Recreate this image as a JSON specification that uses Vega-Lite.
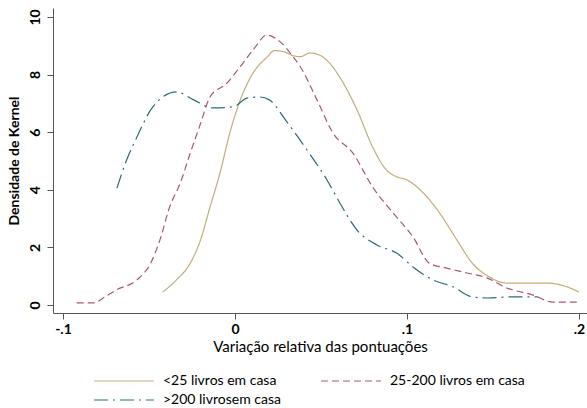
{
  "$schema": "https://vega.github.io/schema/vega-lite/v6.json",
  "autosize": {"type": "none"},
  "width": 534,
  "height": 305,
  "padding": {"left": 53, "top": 8, "right": 0, "bottom": 95},
  "background": "white",
  "config": {"view": {"stroke": null}, "font": "Lato"},
  "data": {"values": [
    {"g": "<25 livros em casa", "x": -0.042, "y": 0.45},
    {"g": "<25 livros em casa", "x": -0.034, "y": 0.87},
    {"g": "<25 livros em casa", "x": -0.026, "y": 1.45},
    {"g": "<25 livros em casa", "x": -0.020, "y": 2.26},
    {"g": "<25 livros em casa", "x": -0.0145, "y": 3.4},
    {"g": "<25 livros em casa", "x": -0.0087, "y": 4.58},
    {"g": "<25 livros em casa", "x": -0.003, "y": 5.97},
    {"g": "<25 livros em casa", "x": 0.003, "y": 7.1},
    {"g": "<25 livros em casa", "x": 0.0105, "y": 8.05},
    {"g": "<25 livros em casa", "x": 0.0186, "y": 8.6},
    {"g": "<25 livros em casa", "x": 0.023, "y": 8.83},
    {"g": "<25 livros em casa", "x": 0.028, "y": 8.8},
    {"g": "<25 livros em casa", "x": 0.034, "y": 8.65},
    {"g": "<25 livros em casa", "x": 0.038, "y": 8.62},
    {"g": "<25 livros em casa", "x": 0.0436, "y": 8.75},
    {"g": "<25 livros em casa", "x": 0.049, "y": 8.68},
    {"g": "<25 livros em casa", "x": 0.055, "y": 8.4},
    {"g": "<25 livros em casa", "x": 0.061, "y": 7.9},
    {"g": "<25 livros em casa", "x": 0.071, "y": 6.77},
    {"g": "<25 livros em casa", "x": 0.080, "y": 5.49},
    {"g": "<25 livros em casa", "x": 0.088, "y": 4.69},
    {"g": "<25 livros em casa", "x": 0.094, "y": 4.45},
    {"g": "<25 livros em casa", "x": 0.100, "y": 4.34},
    {"g": "<25 livros em casa", "x": 0.109, "y": 3.92},
    {"g": "<25 livros em casa", "x": 0.119, "y": 3.19},
    {"g": "<25 livros em casa", "x": 0.129, "y": 2.26},
    {"g": "<25 livros em casa", "x": 0.138, "y": 1.45},
    {"g": "<25 livros em casa", "x": 0.148, "y": 0.97},
    {"g": "<25 livros em casa", "x": 0.158, "y": 0.76},
    {"g": "<25 livros em casa", "x": 0.170, "y": 0.76},
    {"g": "<25 livros em casa", "x": 0.181, "y": 0.76},
    {"g": "<25 livros em casa", "x": 0.193, "y": 0.63},
    {"g": "<25 livros em casa", "x": 0.2, "y": 0.45},
    {"g": "25-200 livros em casa", "x": -0.092, "y": 0.07},
    {"g": "25-200 livros em casa", "x": -0.0826, "y": 0.07},
    {"g": "25-200 livros em casa", "x": -0.075, "y": 0.3},
    {"g": "25-200 livros em casa", "x": -0.069, "y": 0.52},
    {"g": "25-200 livros em casa", "x": -0.057, "y": 0.87},
    {"g": "25-200 livros em casa", "x": -0.049, "y": 1.45},
    {"g": "25-200 livros em casa", "x": -0.0436, "y": 2.26},
    {"g": "25-200 livros em casa", "x": -0.038, "y": 3.4},
    {"g": "25-200 livros em casa", "x": -0.032, "y": 4.2},
    {"g": "25-200 livros em casa", "x": -0.026, "y": 5.27},
    {"g": "25-200 livros em casa", "x": -0.020, "y": 6.3},
    {"g": "25-200 livros em casa", "x": -0.0145, "y": 7.22},
    {"g": "25-200 livros em casa", "x": -0.0047, "y": 7.7},
    {"g": "25-200 livros em casa", "x": 0.003, "y": 8.27},
    {"g": "25-200 livros em casa", "x": 0.0105, "y": 8.85},
    {"g": "25-200 livros em casa", "x": 0.0186, "y": 9.37},
    {"g": "25-200 livros em casa", "x": 0.026, "y": 9.15},
    {"g": "25-200 livros em casa", "x": 0.034, "y": 8.6},
    {"g": "25-200 livros em casa", "x": 0.038, "y": 8.27},
    {"g": "25-200 livros em casa", "x": 0.0477, "y": 7.12},
    {"g": "25-200 livros em casa", "x": 0.057, "y": 5.97},
    {"g": "25-200 livros em casa", "x": 0.0686, "y": 5.27},
    {"g": "25-200 livros em casa", "x": 0.080, "y": 4.1},
    {"g": "25-200 livros em casa", "x": 0.092, "y": 3.19},
    {"g": "25-200 livros em casa", "x": 0.1035, "y": 2.36},
    {"g": "25-200 livros em casa", "x": 0.113, "y": 1.45},
    {"g": "25-200 livros em casa", "x": 0.123, "y": 1.28},
    {"g": "25-200 livros em casa", "x": 0.135, "y": 1.11},
    {"g": "25-200 livros em casa", "x": 0.1465, "y": 0.94},
    {"g": "25-200 livros em casa", "x": 0.158, "y": 0.59},
    {"g": "25-200 livros em casa", "x": 0.173, "y": 0.35},
    {"g": "25-200 livros em casa", "x": 0.185, "y": 0.1},
    {"g": "25-200 livros em casa", "x": 0.199, "y": 0.1},
    {"g": ">200 livrosem casa", "x": -0.0686, "y": 4.06},
    {"g": ">200 livrosem casa", "x": -0.063, "y": 5.03},
    {"g": ">200 livrosem casa", "x": -0.057, "y": 5.83},
    {"g": ">200 livrosem casa", "x": -0.049, "y": 6.77},
    {"g": ">200 livrosem casa", "x": -0.042, "y": 7.22},
    {"g": ">200 livrosem casa", "x": -0.034, "y": 7.4},
    {"g": ">200 livrosem casa", "x": -0.024, "y": 7.12},
    {"g": ">200 livrosem casa", "x": -0.0128, "y": 6.84},
    {"g": ">200 livrosem casa", "x": -0.001, "y": 6.88},
    {"g": ">200 livrosem casa", "x": 0.007, "y": 7.18},
    {"g": ">200 livrosem casa", "x": 0.0145, "y": 7.22},
    {"g": ">200 livrosem casa", "x": 0.020, "y": 7.12},
    {"g": ">200 livrosem casa", "x": 0.030, "y": 6.37},
    {"g": ">200 livrosem casa", "x": 0.0419, "y": 5.38},
    {"g": ">200 livrosem casa", "x": 0.0535, "y": 4.34},
    {"g": ">200 livrosem casa", "x": 0.061, "y": 3.54},
    {"g": ">200 livrosem casa", "x": 0.071, "y": 2.6},
    {"g": ">200 livrosem casa", "x": 0.0826, "y": 2.08},
    {"g": ">200 livrosem casa", "x": 0.094, "y": 1.8},
    {"g": ">200 livrosem casa", "x": 0.1035, "y": 1.32},
    {"g": ">200 livrosem casa", "x": 0.115, "y": 0.87},
    {"g": ">200 livrosem casa", "x": 0.1267, "y": 0.63},
    {"g": ">200 livrosem casa", "x": 0.138, "y": 0.28},
    {"g": ">200 livrosem casa", "x": 0.1465, "y": 0.24},
    {"g": ">200 livrosem casa", "x": 0.1616, "y": 0.28},
    {"g": ">200 livrosem casa", "x": 0.176, "y": 0.28}
  ]},
  "mark": {"type": "line", "strokeWidth": 1.2, "interpolate": "monotone"},
  "encoding": {
    "x": {
      "field": "x", "type": "quantitative",
      "scale": {"domain": [-0.1058, 0.2047], "nice": false, "zero": false},
      "axis": {
        "values": [-0.1, 0, 0.1, 0.2],
        "labelExpr": "datum.value < -0.05 ? '-.1' : datum.value < 0.05 ? '0' : datum.value < 0.15 ? '.1' : '.2'",
        "title": "Variação relativa das pontuações",
        "titleFontSize": 15, "titleFontWeight": "normal", "titleColor": "#000",
        "titlePadding": 3,
        "labelFontSize": 14, "labelFontWeight": "bold", "labelColor": "#000",
        "labelPadding": 3, "labelFlush": false,
        "tickSize": 6, "tickColor": "#555", "domainColor": "#555", "grid": false
      }
    },
    "y": {
      "field": "y", "type": "quantitative",
      "scale": {"domain": [-0.28, 10.31], "nice": false, "zero": false},
      "axis": {
        "values": [0, 2, 4, 6, 8, 10],
        "title": "Densidade de Kernel",
        "titleFontSize": 14, "titleFontWeight": "bold", "titleColor": "#000",
        "titlePadding": 7,
        "labelAngle": 270, "labelAlign": "center", "labelBaseline": "bottom",
        "labelFontSize": 14, "labelFontWeight": "bold", "labelColor": "#000",
        "labelPadding": 5,
        "tickSize": 6, "tickColor": "#555", "domainColor": "#555", "grid": false
      }
    },
    "color": {
      "field": "g", "type": "nominal",
      "scale": {"domain": ["<25 livros em casa", "25-200 livros em casa", ">200 livrosem casa"], "range": ["#c4ad78", "#ad5670", "#2c6a7a"]},
      "legend": {
        "title": null,
        "orient": "none",
        "legendX": 40,
        "legendY": 366,
        "direction": "horizontal",
        "columns": 2,
        "columnPadding": 37,
        "rowPadding": 5,
        "symbolType": "M-1,0H9",
        "symbolSize": 144,
        "symbolStrokeWidth": 1.2,
        "labelOffset": 56,
        "labelFontSize": 14,
        "labelColor": "#000"
      }
    },
    "strokeDash": {
      "field": "g", "type": "nominal",
      "scale": {"domain": ["<25 livros em casa", "25-200 livros em casa", ">200 livrosem casa"], "range": [[1, 0], [7, 4], [14, 5, 2, 5]]}
    }
  }
}
